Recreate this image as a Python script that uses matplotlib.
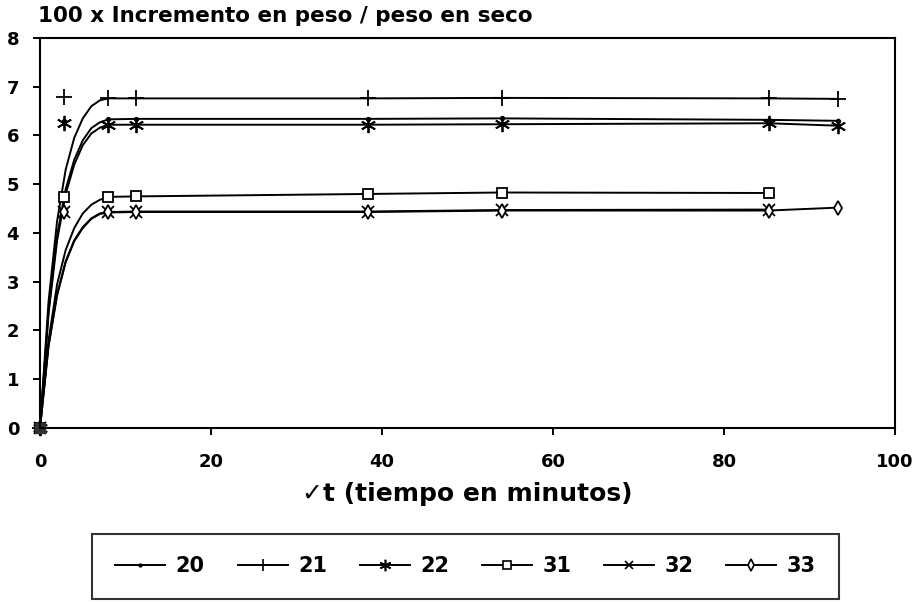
import matplotlib
matplotlib.use("Agg")
import matplotlib.pyplot as plt

plt.rcParams['font.family'] = ['DejaVu Sans']
plt.rcParams['font.weight'] = 'bold'

# rising part of the fitted curves, sampled every unit of sqrt(t)
RISE_X = [0, 1, 2, 3, 4, 5, 6, 7]
rise_20 = [0, 2.40, 3.95, 4.90, 5.50, 5.90, 6.15, 6.27]
rise_21 = [0, 2.60, 4.25, 5.30, 5.95, 6.35, 6.60, 6.72]
rise_22 = [0, 2.35, 3.85, 4.80, 5.40, 5.80, 6.04, 6.16]
rise_31 = [0, 1.80, 2.95, 3.65, 4.10, 4.40, 4.58, 4.68]
rise_32 = [0, 1.70, 2.75, 3.42, 3.85, 4.12, 4.30, 4.40]
rise_33 = [0, 1.68, 2.72, 3.40, 3.83, 4.10, 4.29, 4.39]

# measured points (sqrt of minutes, % weight gain)
x_long = [0, 2.8, 8.0, 11.2, 38.3, 54.0, 85.2, 93.3]
x_short = [0, 2.8, 8.0, 11.2, 38.3, 54.0, 85.2]
y_20 = [0, 6.30, 6.33, 6.34, 6.34, 6.35, 6.32, 6.30]
y_21 = [0, 6.79, 6.76, 6.76, 6.76, 6.77, 6.76, 6.75]
y_22 = [0, 6.26, 6.22, 6.22, 6.22, 6.23, 6.25, 6.20]
y_31 = [0, 4.74, 4.74, 4.75, 4.80, 4.83, 4.82]
y_32 = [0, 4.43, 4.43, 4.44, 4.44, 4.47, 4.48]
y_33 = [0, 4.43, 4.42, 4.43, 4.43, 4.46, 4.46, 4.52]

labels = ['20', '21', '22', '31', '32', '33']

series = [
    (rise_20, x_long, y_20, '.', 5),
    (rise_21, x_long, y_21, '+', 12),
    (rise_22, x_long, y_22, (6, 2, 0), 11),
    (rise_31, x_short, y_31, 's', 7.5),
    (rise_32, x_short, y_32, 'x', 8),
    (rise_33, x_long, y_33, 'd', 7.5),
]

fig = plt.figure(figsize=(9.2, 6.02), dpi=100)
ax = fig.add_axes([0.0435, 0.289, 0.9295, 0.648])

for (rise, xs, ys, mk, ms), lab in zip(series, labels):
    face = 'white' if mk in ('s', 'd') else 'black'
    # curve: fitted rise, then the plateau through the later points
    cx = RISE_X + [x for x in xs if x >= 8]
    cy = rise + [y for x, y in zip(xs, ys) if x >= 8]
    ax.plot(cx, cy, color='black', lw=1.4)
    ax.plot(xs, ys, linestyle='none', marker=mk, markersize=ms,
            markerfacecolor=face, markeredgecolor='black',
            markeredgewidth=1.3, clip_on=False)
    ax.plot([], [], color='black', lw=1.4, marker=mk, markersize=ms * 0.75,
            markerfacecolor=face, markeredgecolor='black',
            markeredgewidth=1.2, label=lab)

# dark blob where all series start at the origin
ax.plot([0], [0], marker='s', markersize=7, color='#333333', clip_on=False)

ax.set_xlim(0, 100)
ax.set_ylim(0, 8)
ax.set_xticks([0, 20, 40, 60, 80, 100])
ax.set_yticks(range(9))
ax.tick_params(axis='x', direction='out', length=5, width=1.4, pad=13, labelsize=13)
ax.tick_params(axis='y', direction='out', length=5, width=1.4, pad=10, labelsize=13)
ax.tick_params(top=False, right=False)
for sp in ax.spines.values():
    sp.set_linewidth(1.5)

ax.set_xlabel('\u2713t (tiempo en minutos)', fontsize=18, fontweight='bold',
              labelpad=8)
fig.text(0.041, 0.973, '100 x Incremento en peso / peso en seco',
         fontsize=15.5, fontweight='bold', ha='left', va='center')

leg = fig.legend(loc='center', ncol=6, mode='expand',
                 bbox_to_anchor=(82 / 920, 1 - 600 / 602, 767 / 920, 67 / 602),
                 fontsize=15, handlelength=2.4, handletextpad=0.5,
                 frameon=True, fancybox=False, edgecolor='black',
                 borderpad=1.1)
leg.get_frame().set_linewidth(1.5)

fig.savefig('out.png', dpi=100)
